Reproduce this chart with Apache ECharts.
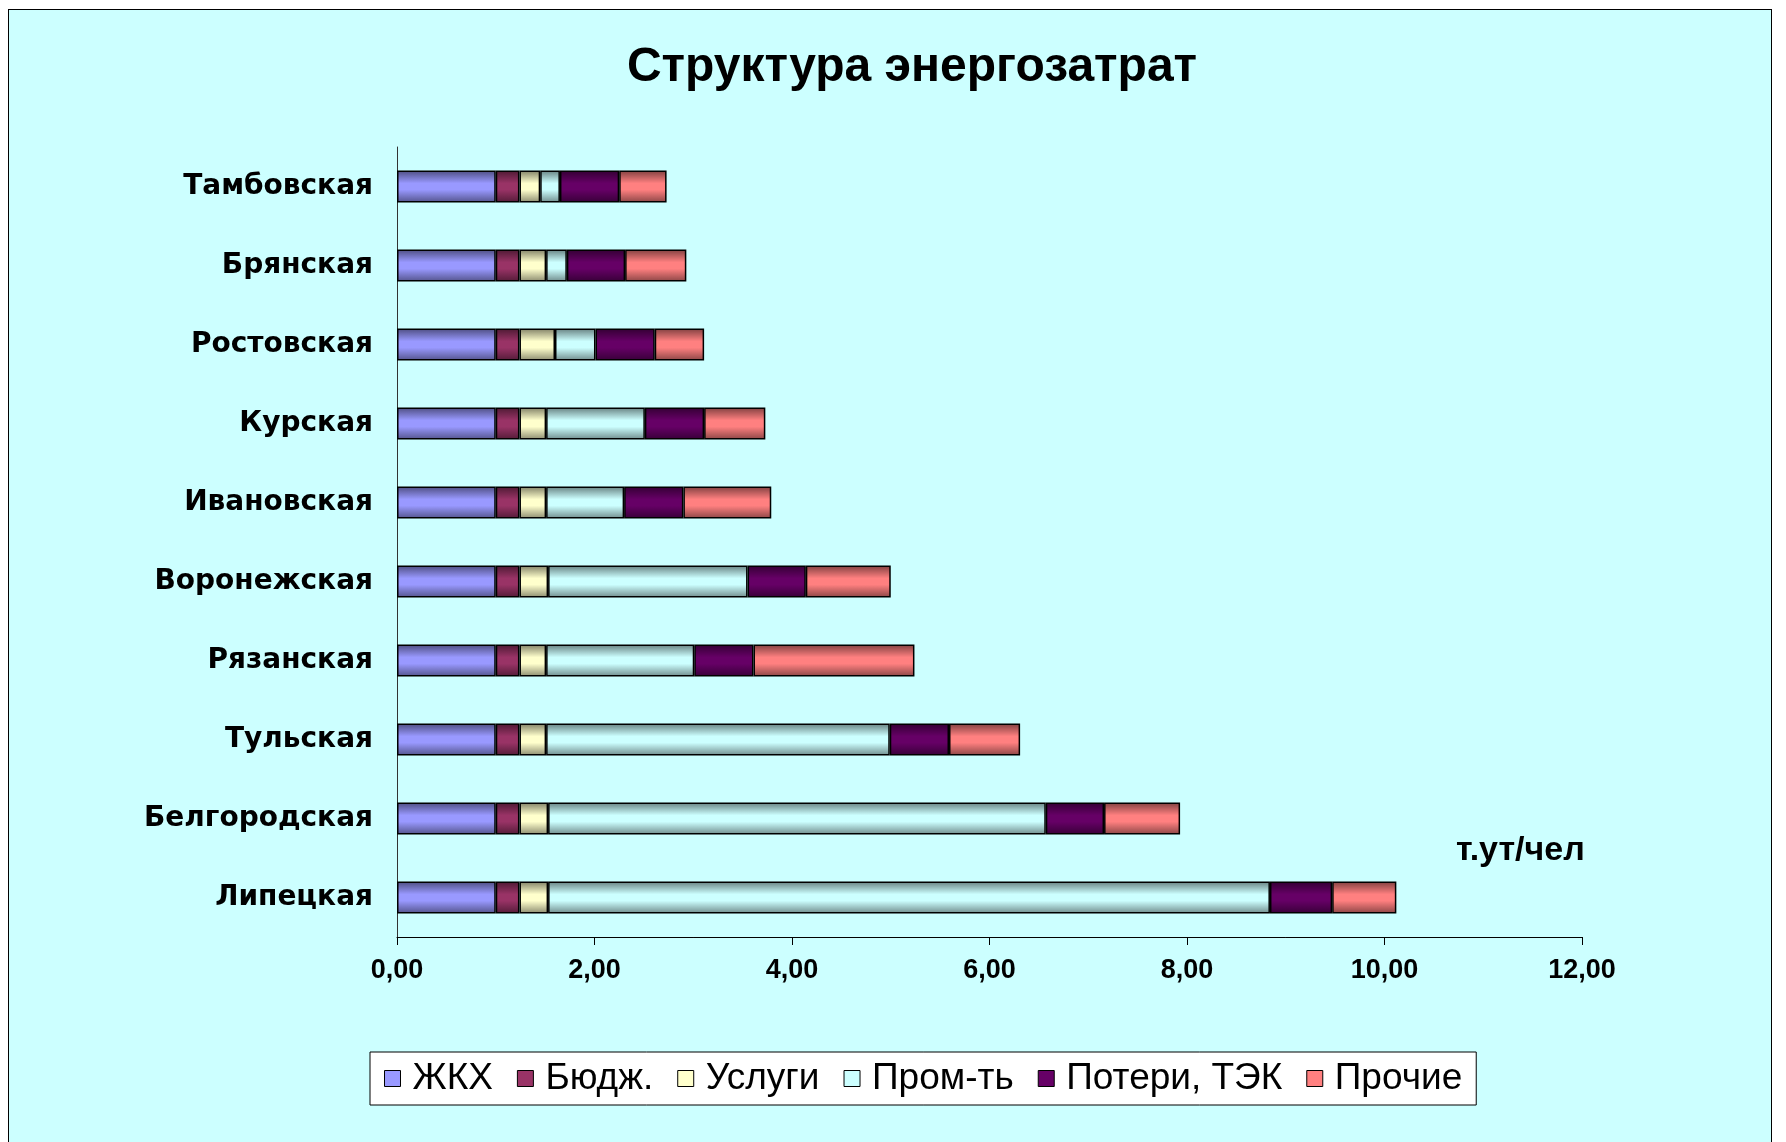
<!DOCTYPE html>
<html>
<head>
<meta charset="utf-8">
<script src="https://cdn.jsdelivr.net/npm/echarts@6/dist/echarts.min.js"></script>
<style>
  html, body { margin: 0; padding: 0; background: #fff; }
  #chart {
    position: absolute;
    left: 8px;
    top: 9px;
    width: 1762px;
    height: 1133px;
    border-left: 1px solid #000;
    border-top: 1px solid #000;
    border-right: 1px solid #000;
    background: #ccffff;
  }
</style>
</head>
<body>
<div id="chart"></div>
<script>
  // regions, bottom to top
  var categories = ['Липецкая', 'Белгородская', 'Тульская', 'Рязанская', 'Воронежская',
    'Ивановская', 'Курская', 'Ростовская', 'Брянская', 'Тамбовская']

  var zhkh    = [1.00, 1.00, 1.00, 1.00, 1.00, 1.00, 1.00, 1.00, 1.00, 1.00]
  var budzh   = [0.24, 0.24, 0.24, 0.24, 0.24, 0.24, 0.24, 0.24, 0.24, 0.24]
  var uslugi  = [0.29, 0.29, 0.27, 0.27, 0.29, 0.27, 0.27, 0.36, 0.27, 0.21]
  var prom    = [7.31, 5.04, 3.48, 1.50, 2.02, 0.79, 1.00, 0.41, 0.21, 0.20]
  var poteri  = [0.63, 0.59, 0.60, 0.60, 0.59, 0.60, 0.60, 0.60, 0.59, 0.60]
  var prochie = [0.65, 0.77, 0.72, 1.63, 0.86, 0.89, 0.62, 0.50, 0.62, 0.48]

  var seriesNames = ['ЖКХ', 'Бюдж.', 'Услуги', 'Пром-ть', 'Потери, ТЭК', 'Прочие']
  var seriesData = [zhkh, budzh, uslugi, prom, poteri, prochie]
  var colors = ['#9999ff', '#993366', '#ffffcc', '#ccffff', '#660066', '#ff8080']

  var xTickLabels = ['0,00', '2,00', '4,00', '6,00', '8,00', '10,00', '12,00']

  function darken (hex, k) {
    var r = parseInt(hex.substr(1, 2), 16)
    var g = parseInt(hex.substr(3, 2), 16)
    var b = parseInt(hex.substr(5, 2), 16)
    return 'rgb(' + Math.round(r * k) + ',' + Math.round(g * k) + ',' + Math.round(b * k) + ')'
  }

  function shaded (hex) {
    // excel-like shading: darker at top and bottom edge
    return new echarts.graphic.LinearGradient(0, 0, 0, 1, [
      {offset: 0, color: darken(hex, 0.5)},
      {offset: 0.4, color: hex},
      {offset: 0.6, color: hex},
      {offset: 1, color: darken(hex, 0.55)}
    ])
  }

  var series = seriesNames.map(function (name, i) {
    return {
      name: name,
      type: 'bar',
      stack: 'total',
      barWidth: 32,
      data: seriesData[i],
      itemStyle: {
        color: shaded(colors[i]),
        borderColor: '#000',
        borderWidth: 1.5
      }
    }
  })

  var option = {
    animation: false,
    title: [
      {
        text: 'Структура энергозатрат',
        left: 903,
        top: 34,
        textAlign: 'center',
        padding: 0,
        textStyle: {
          fontFamily: 'Liberation Sans, Arial, sans-serif',
          fontSize: 48,
          fontWeight: 'bold',
          color: '#000'
        }
      },
      {
        text: 'т.ут/чел',
        left: 1447,
        top: 824,
        padding: 0,
        textStyle: {
          fontFamily: 'Liberation Sans, Arial, sans-serif',
          fontSize: 34,
          fontWeight: 'bold',
          color: '#000'
        }
      }
    ],
    legend: {
      left: 361,
      top: 1042,
      orient: 'horizontal',
      padding: [8, 14],
      itemGap: 24,
      itemWidth: 16,
      itemHeight: 16,
      backgroundColor: '#fff',
      borderColor: '#000',
      borderWidth: 1,
      borderRadius: 0,
      icon: 'rect',
      data: seriesNames.map(function (name, i) {
        return {name: name, itemStyle: {color: colors[i], borderColor: '#000', borderWidth: 1}}
      }),
      textStyle: {
        fontFamily: 'Liberation Sans, Arial, sans-serif',
        fontSize: 37,
        color: '#000',
        padding: [0, 0, 0, 7]
      }
    },
    grid: {
      left: 388,
      right: 189,
      top: 137,
      bottom: 206,
      containLabel: false,
      outerBoundsMode: 'none'
    },
    xAxis: {
      type: 'value',
      min: 0,
      max: 12,
      interval: 2,
      splitLine: {show: false},
      axisLine: {show: true, lineStyle: {color: '#000', width: 1}},
      axisTick: {show: true, length: 8, lineStyle: {color: '#000'}},
      axisLabel: {
        margin: 20,
        fontFamily: 'Liberation Sans, Arial, sans-serif',
        fontSize: 27,
        fontWeight: 'bold',
        color: '#000',
        formatter: function (v) { return xTickLabels[Math.round(v / 2)] }
      }
    },
    yAxis: {
      type: 'category',
      data: categories,
      axisLine: {show: true, lineStyle: {color: '#333', width: 1}},
      axisTick: {show: false},
      axisLabel: {
        margin: 24,
        fontFamily: 'DejaVu Sans, sans-serif',
        fontSize: 28,
        fontWeight: 'bold',
        color: '#000'
      }
    },
    series: series
  }

  var chart = echarts.init(document.getElementById('chart'))
  chart.setOption(option)
</script>
</body>
</html>
